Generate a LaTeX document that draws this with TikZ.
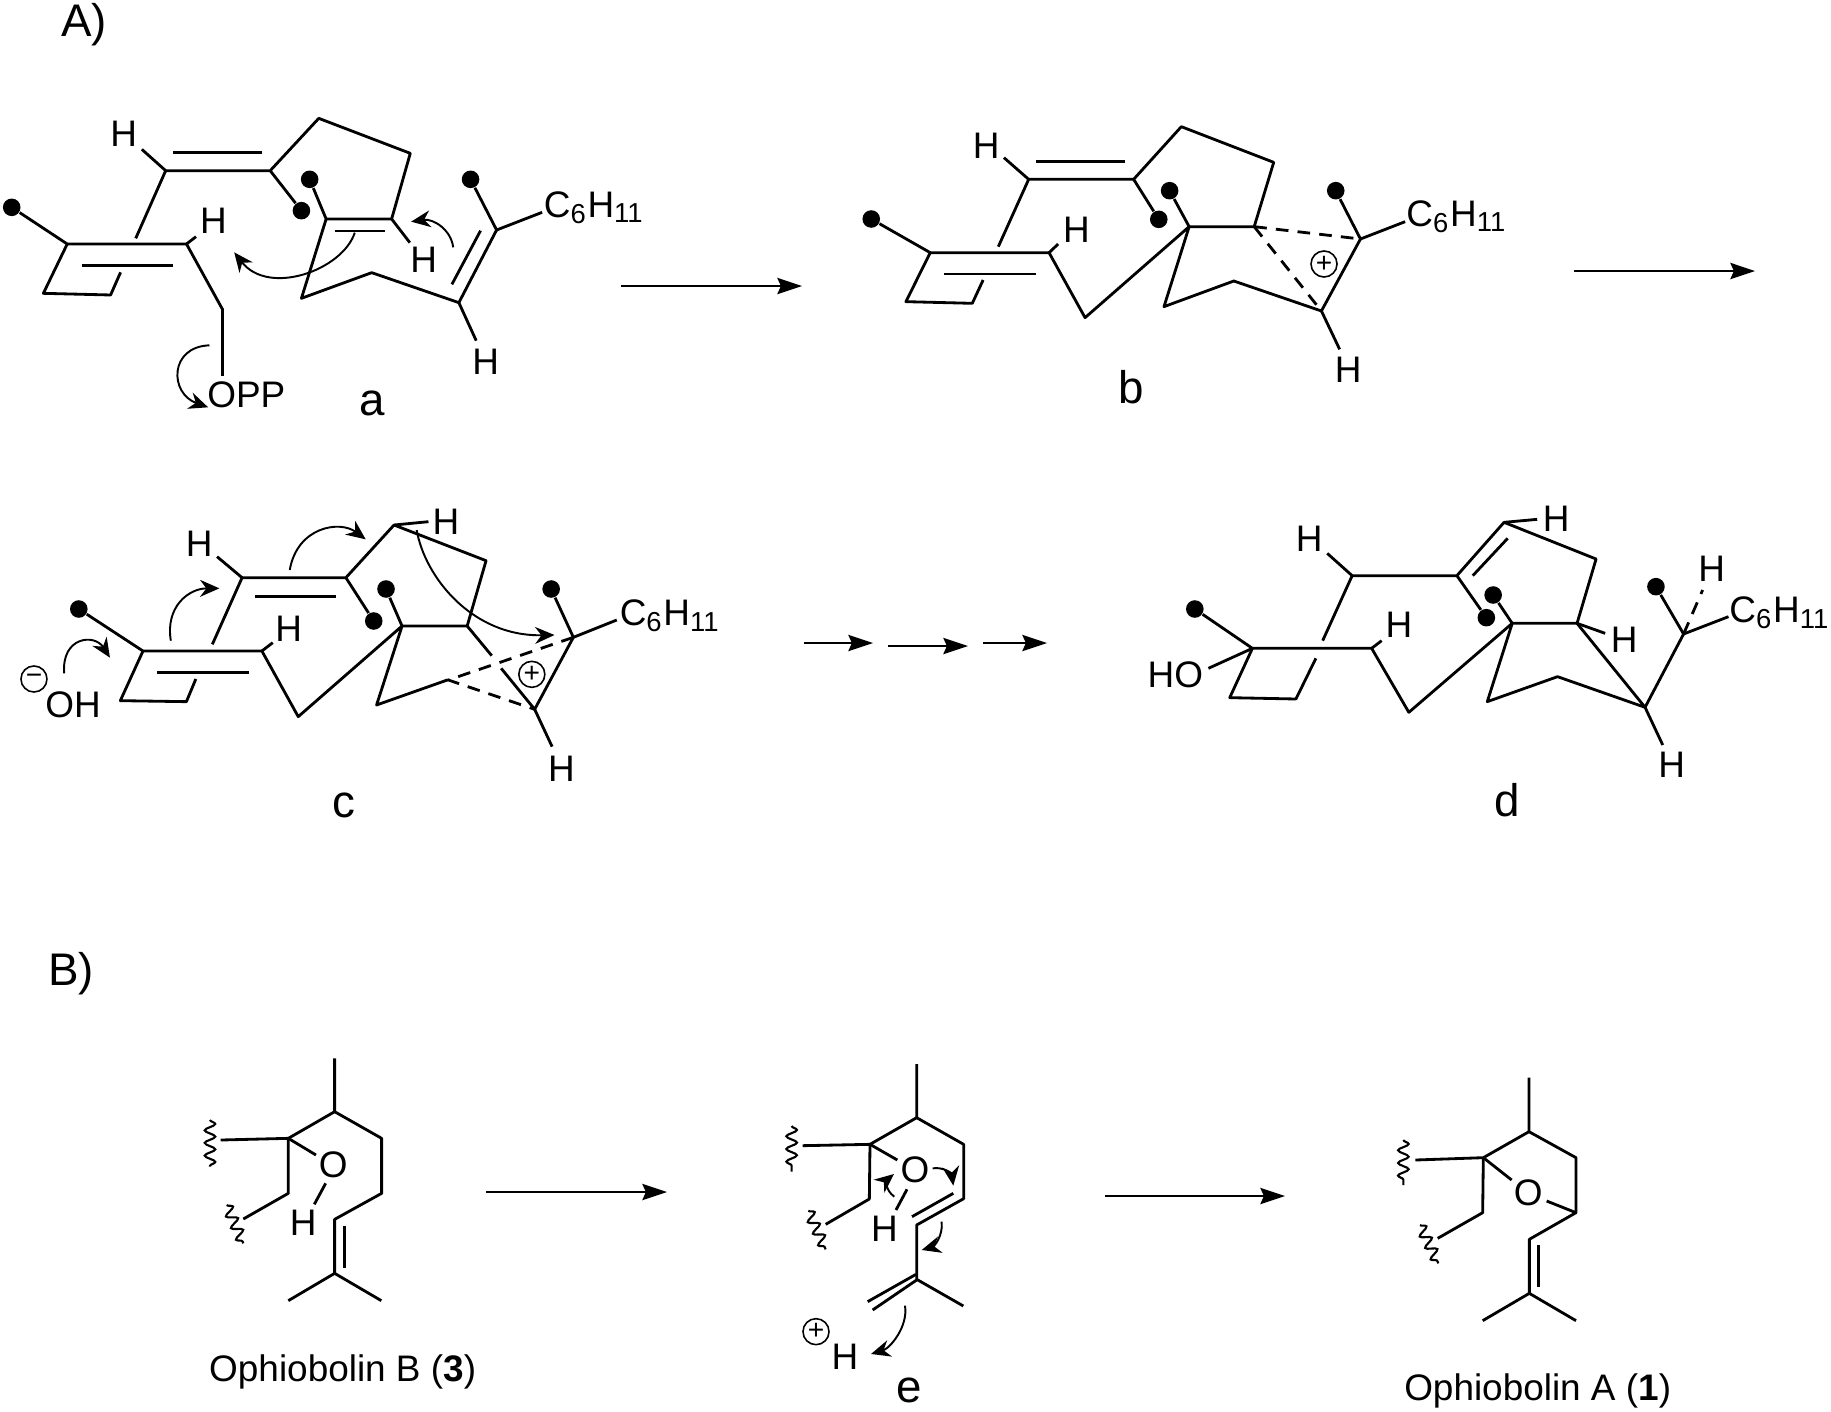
\documentclass[tikz,border=0pt]{standalone}
\usepackage{fontspec}
\setmainfont{Liberation Sans}
\usetikzlibrary{arrows.meta,decorations.pathmorphing}
\newcommand{\sbs}[1]{\textsubscript{\fontsize{7.8}{8}\selectfont #1}}
\tikzset{
  bond/.style={line width=.8pt,line join=round},
  dashbond/.style={line width=.8pt,dash pattern=on 3.6pt off 2.6pt},
  curv/.style={line width=.55pt,-{Stealth[length=5.5pt,width=4.8pt]}},
  rxn/.style={line width=.7pt,-{Stealth[length=7pt,width=4.6pt,inset=1pt]}},
  wig/.style={line width=.6pt,decorate,decoration={snake,segment length=3.6pt,amplitude=1.5pt}},
  dotc/.style={circle,fill=black,inner sep=0pt,minimum size=5pt},
  chg/.style={circle,draw,line width=.45pt,inner sep=0pt,minimum size=7.4pt,font=\fontsize{8}{8}\selectfont},
  lab/.style={inner sep=0pt,font=\fontsize{10.5}{12}\selectfont},
  tag/.style={inner sep=0pt,font=\fontsize{13}{15}\selectfont}
}
\begin{document}
\begin{tikzpicture}[x=.01cm,y=-.01cm]
\useasboundingbox (0,0) rectangle (1831,1411);
\node[tag] (pA) at (84,25) {A)};
\node[tag] (pB) at (71,974) {B)};
\coordinate (r1a) at (621,286);
\coordinate (r1b) at (802,286);
\coordinate (r2a) at (1574,271);
\coordinate (r2b) at (1755,271);
\coordinate (r3a) at (804,643);
\coordinate (r3b) at (873,643);
\coordinate (r4a) at (888,646);
\coordinate (r4b) at (968,646);
\coordinate (r5a) at (983,643);
\coordinate (r5b) at (1047,643);
\coordinate (r6a) at (486,1192);
\coordinate (r6b) at (667,1192);
\coordinate (r7a) at (1105,1196);
\coordinate (r7b) at (1285,1196);
\draw[rxn] (r1a)--(r1b);
\draw[rxn] (r2a)--(r2b);
\draw[rxn] (r3a)--(r3b);
\draw[rxn] (r4a)--(r4b);
\draw[rxn] (r5a)--(r5b);
\draw[rxn] (r6a)--(r6b);
\draw[rxn] (r7a)--(r7b);
\begin{scope}[shift={(0,90)},xscale=.4337,yscale=.3333]
\node[dotc] (ad1) at (27,352) {};
\node[dotc] (ad2) at (695,362) {};
\node[dotc] (ad3) at (714,268) {};
\node[dotc] (ad4) at (1085,268) {};
\node[lab] (aH1) at (285,130) {H};
\node[lab] (aH2) at (492,392) {H};
\node[lab] (aH3) at (977,510) {H};
\node[lab] (aH4) at (1120,815) {H};
\node[lab] (aR) at (1370,352) {C\sbs{6}H\sbs{11}};
\node[lab] (aO) at (568,915) {OPP};
\node[tag] (a) at (858,940) {a};
\draw[bond] (ad1)--(155,462)--(430,462)--(513,658)--(513,858);
\draw[bond] (188,526)--(400,526);
\draw[bond] (155,462)--(100,610)--(255,615)--(278,547);
\draw[bond] (430,462)--(452,440);
\draw[bond] (313,445)--(382,242)--(623,242)--(735,85)--(946,190)--(903,387)--(752,387)--(695,625)--(857,548)--(1058,638)--(1145,420)--(ad4);
\draw[bond] (400,188)--(604,188);
\draw[bond] (382,242)--(327,178);
\draw[bond] (623,242)--(ad2);
\draw[bond] (ad3)--(752,387);
\draw[bond] (772,423)--(888,423);
\draw[bond] (903,387)--(945,458);
\draw[bond] (1042,583)--(1108,422);
\draw[bond] (1145,420)--(1250,367);
\draw[bond] (1058,638)--(1098,752);
\draw[curv] (818,428) .. controls (790,540) and (620,620) .. (540,487);
\draw[curv] (1045,472) .. controls (1040,420) and (1000,385) .. (948,395);
\draw[curv] (483,766) .. controls (390,770) and (390,910) .. (480,952);
\end{scope}
\begin{scope}[shift={(840,90)},xscale=.4337,yscale=.3333]
\node[dotc] (bd1) at (72,387) {};
\node[dotc] (bd2) at (735,388) {};
\node[dotc] (bd3) at (760,302) {};
\node[dotc] (bd4) at (1143,302) {};
\node[lab] (bH1) at (337,167) {H};
\node[lab] (bH2) at (545,418) {H};
\node[lab] (bH3) at (1172,838) {H};
\node[lab] (bR) at (1422,379) {C\sbs{6}H\sbs{11}};
\node[chg] (bp) at (1116,522) {+};
\node[tag] (b) at (672,892) {b};
\draw[bond] (bd1)--(208,488)--(482,488)--(565,683)--(805,410);
\draw[bond] (240,552)--(452,552);
\draw[bond] (208,488)--(152,635)--(305,640)--(330,570);
\draw[bond] (482,488)--(503,462);
\draw[bond] (365,470)--(435,268)--(677,268)--(787,110)--(1000,217)--(955,410)--(805,410)--(747,650)--(908,573)--(1110,663)--(1200,447)--(bd4);
\draw[bond] (452,214)--(656,214);
\draw[bond] (435,268)--(378,203);
\draw[bond] (677,268)--(bd2);
\draw[bond] (bd3)--(805,410);
\draw[bond] (1200,447)--(1303,395);
\draw[bond] (1110,663)--(1152,778);
\draw[dashbond] (955,410)--(1200,447);
\draw[dashbond] (955,410)--(1110,663);
\end{scope}
\begin{scope}[shift={(0,490)},xscale=.4719,yscale=.3333]
\node[dotc] (cd1) at (167,357) {};
\node[dotc] (cd2) at (792,393) {};
\node[dotc] (cd3) at (818,297) {};
\node[dotc] (cd4) at (1168,297) {};
\node[lab] (cH1) at (422,160) {H};
\node[lab] (cH2) at (612,417) {H};
\node[lab] (cH3) at (945,95) {H};
\node[lab] (cH4) at (1190,835) {H};
\node[lab] (cR) at (1420,378) {C\sbs{6}H\sbs{11}};
\node[chg] (cp) at (1127,553) {+};
\node[chg] (cm) at (72,567) {−};
\node[lab] (cO) at (155,645) {OH};
\node[tag] (c) at (728,945) {c};
\draw[bond] (cd1)--(303,483)--(555,483)--(632,680)--(852,408);
\draw[bond] (333,547)--(528,547);
\draw[bond] (303,483)--(255,632)--(395,635)--(415,567);
\draw[bond] (555,483)--(578,458);
\draw[bond] (450,463)--(513,263)--(733,263)--(835,105)--(1030,212)--(990,408)--(852,408)--(798,645)--(948,570);
\draw[bond] (540,320)--(713,320);
\draw[bond] (513,263)--(460,200);
\draw[bond] (835,105)--(908,95);
\draw[bond] (733,263)--(cd2);
\draw[bond] (cd3)--(852,408);
\draw[bond] (990,408)--(1042,497);
\draw[bond] (1062,535)--(1133,658)--(1215,442)--(cd4);
\draw[bond] (1215,442)--(1307,390);
\draw[bond] (1133,658)--(1170,770);
\draw[dashbond] (1215,442)--(950,570)--(1133,658);
\draw[curv] (136,550) .. controls (130,440) and (200,430) .. (233,503);
\draw[curv] (362,452) .. controls (350,350) and (400,295) .. (465,295);
\draw[curv] (614,240) .. controls (630,110) and (720,90) .. (775,148);
\draw[curv] (883,120) .. controls (900,260) and (1000,440) .. (1175,435);
\end{scope}
\begin{scope}[shift={(1120,490)},xscale=.4534,yscale=.3333]
\node[dotc] (dd1) at (165,357) {};
\node[dotc] (dd2) at (808,383) {};
\node[dotc] (dd3) at (823,315) {};
\node[dotc] (dd4) at (1182,290) {};
\node[lab] (dH1) at (417,145) {H};
\node[lab] (dH2) at (615,405) {H};
\node[lab] (dH3) at (962,85) {H};
\node[lab] (dH4) at (1112,450) {H};
\node[lab] (dH5) at (1305,235) {H};
\node[lab] (dH6) at (1217,825) {H};
\node[lab] (dR) at (1455,369) {C\sbs{6}H\sbs{11}};
\node[lab] (dO) at (122,555) {HO};
\node[tag] (d) at (855,930) {d};
\draw[bond] (dd1)--(292,475)--(555,475)--(637,667)--(865,400);
\draw[bond] (292,475)--(195,535);
\draw[bond] (292,475)--(242,623)--(388,627)--(432,505);
\draw[bond] (447,452)--(512,257)--(743,257)--(847,97)--(1050,207)--(1008,400)--(865,400)--(810,635)--(965,560)--(1158,652)--(1243,432)--(dd4);
\draw[bond] (778,257)--(855,145);
\draw[bond] (512,257)--(457,190);
\draw[bond] (847,97)--(920,88);
\draw[bond] (743,257)--(dd2);
\draw[bond] (dd3)--(865,400);
\draw[bond] (555,475)--(577,452);
\draw[bond] (1008,400)--(1158,652);
\draw[bond] (1008,400)--(1070,430);
\draw[bond] (1243,432)--(1342,380);
\draw[bond] (1158,652)--(1197,765);
\draw[dashbond] (1243,432)--(1285,300);
\end{scope}
\begin{scope}[shift={(170,1040)},scale=.3333]
\node[lab] (fO) at (490,373) {O};
\node[lab] (fH) at (400,548) {H};
\node[lab] (fN) at (518,996) {Ophiobolin B (\textbf{3})};
\draw[bond] (494,55)--(494,215)--(635,295)--(635,460)--(494,538)--(494,700)--(355,782);
\draw[bond] (494,215)--(355,295)--(152,300);
\draw[bond] (355,295)--(355,460)--(220,537);
\draw[bond] (355,295)--(438,345);
\draw[bond] (467,430)--(433,493);
\draw[bond] (523,558)--(523,683);
\draw[bond] (494,700)--(634,782);
\draw[wig] (120,240)--(120,380);
\draw[wig] (170,495)--(220,610);
\end{scope}
\begin{scope}[shift={(760,1040)},scale=.3333]
\node[lab] (eO) at (465,390) {O};
\node[lab] (eH) at (373,565) {H};
\node[chg] (ep) at (168,875) {+};
\node[lab] (eH2) at (255,950) {H};
\node[tag] (e) at (447,1052) {e};
\draw[bond] (470,72)--(470,233)--(611,313)--(611,476)--(470,555)--(470,718)--(610,798);
\draw[bond] (470,233)--(330,313)--(128,317);
\draw[bond] (330,313)--(328,477)--(197,553);
\draw[bond] (330,313)--(412,360);
\draw[bond] (441,448)--(408,510);
\draw[bond] (580,460)--(456,530);
\draw[bond] (468,703)--(323,785);
\draw[bond] (470,720)--(338,810);
\draw[wig] (95,258)--(95,395);
\draw[wig] (145,512)--(197,628);
\draw[curv] (403,470) .. controls (375,450) and (380,420) .. (402,402);
\draw[curv] (518,385) .. controls (550,380) and (575,400) .. (580,437);
\draw[curv] (545,545) .. controls (550,590) and (520,620) .. (485,630);
\draw[curv] (435,797) .. controls (445,860) and (390,925) .. (333,942);
\end{scope}
\begin{scope}[shift={(1370,1040)},scale=.3333]
\node[lab] (gO) at (475,458) {O};
\node[lab] (gN) at (503,1053) {Ophiobolin A (\textbf{1})};
\draw[bond] (477,113)--(477,275)--(618,353)--(618,518)--(478,598)--(478,760)--(338,842);
\draw[bond] (477,275)--(340,353)--(136,360);
\draw[bond] (340,353)--(338,518)--(203,595);
\draw[bond] (340,353)--(425,420);
\draw[bond] (530,483)--(618,518);
\draw[bond] (506,615)--(506,742);
\draw[bond] (478,760)--(618,842);
\draw[wig] (100,300)--(100,435);
\draw[wig] (150,555)--(205,670);
\end{scope}
\end{tikzpicture}
\end{document}
